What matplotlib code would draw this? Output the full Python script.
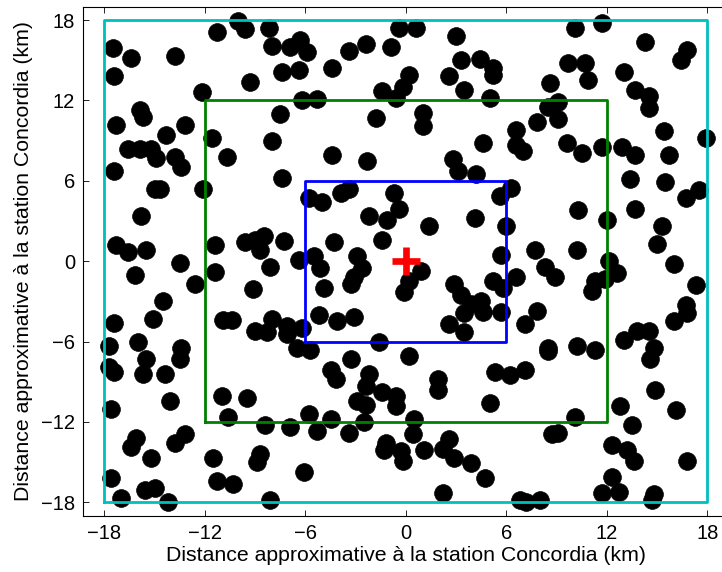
import matplotlib
matplotlib.use("Agg")
import matplotlib.pyplot as plt

plt.rcParams['font.family'] = ['Liberation Sans', 'DejaVu Sans']

# positions of the points (km from the station)
pts_x = [
    -10.0, -9.6, -11.3, -8.2, -8.0, -6.9, -6.3, -5.9, -17.5, -16.4, -13.8, -17.4,
    -9.3, -7.4, -6.4, -12.2, -6.2, -15.9, -15.7, -7.5, -17.3, -13.2, -14.3, -11.6,
    -8.0, -16.6, -15.9, -15.2, -14.9, -13.8, -13.4, -10.7, -17.4, -7.4,
    -0.4, 0.6, 3.0, -2.4, -3.4, -0.9, -4.4, 3.3, 4.4, 5.2, 5.2, 2.6,
    0.2, -0.2, -1.4, -0.6, 3.5, 5.0, -5.3, -1.8, 1.0, 1.0, 6.6, 6.6,
    7.0, 4.6, -4.4, -2.3, 2.8, 3.1, 4.2,
    10.1, 11.7, 14.3, 16.8, 16.4, 9.7, 10.7, 10.9, 13.0, 8.6, 13.7, 14.5,
    14.5, 9.1, 8.5, 9.1, 7.8, 9.6, 10.5, 11.7, 12.9, 13.7, 15.4, 15.7,
    17.9, 13.4, 15.5, 6.3,
    -15.0, -14.7, -12.1, -15.8, -17.3, -16.6, -15.5, -13.5, -16.2, -12.6, -11.4, -11.4,
    -9.6, -9.0, -8.5, -8.7, -7.3, -8.1, -6.4, -9.1, -14.5, -15.1, -17.4, -10.9,
    -10.4, -8.0, -9.0, -8.3, -7.1, -7.1, -6.2, -16.0, -17.7, -13.4,
    -5.8, -5.0, -3.9, -3.4, -0.7, -0.4, -2.2, -1.1, 1.4, 4.1, 5.6, 6.0,
    -4.3, -1.4, -5.5, -5.1, -2.9, -2.6, -3.1, -3.3, -4.9, 0.9, 0.2, -0.1,
    5.7, 6.6, 5.2, 5.8, 2.9, 3.3, 4.5, 3.9, 4.6, 3.5, 5.7, 2.6,
    3.5, -5.2, -4.1, -3.1, -1.6,
    16.7, 17.5, 10.3, 12.0, 13.7, 15.3, 15.0, 7.7, 10.2, 8.3, 8.9, 12.1,
    12.6, 11.3, 11.1, 11.9, 16.0, 17.3, 7.8, 7.1, 16.7, 16.8, 16.0, 13.8,
    14.5, 13.0, 8.5, 10.2, 11.3, 14.8,
    -13.5, -15.5, -17.7, -17.4, -15.7, -14.4, -6.5, -17.6, -14.1, -11.0, -9.5, -10.6,
    -8.4, -6.9, -5.8, -16.1, -16.4, -13.2, -13.8, -15.2, -11.5, -8.7, -8.9, -6.1,
    -17.6, -15.6, -15.0, -17.0, -14.2, -11.3, -10.3, -8.1,
    -5.7, -3.3, 0.2, -4.5, -4.2, -2.2, -2.4, -2.9, -2.4, -1.4, -0.6, -0.6,
    1.9, 1.9, 5.3, 6.2, 5.0, -4.5, -5.3, -3.4, -2.5, 0.5, 0.4, -1.2,
    -1.3, -0.3, -0.2, 1.1, 2.6, 2.2, 2.9, 3.9, 4.7, 2.2,
    8.5, 14.6, 7.1, 14.9, 12.8, 16.1, 10.1, 13.5, 8.7, 9.1, 12.3, 13.2,
    13.6, 16.8, 12.3, 12.7, 11.7, 14.8, 14.7, 6.8, 7.2, 8.0,
]
pts_y = [
    17.9, 17.3, 17.1, 17.4, 16.1, 16.0, 16.5, 15.6, 15.9, 15.2, 15.3, 13.8,
    13.4, 14.1, 14.3, 12.6, 12.0, 11.3, 10.8, 11.0, 10.2, 10.2, 9.4, 9.2,
    9.0, 8.4, 8.4, 8.4, 7.7, 7.8, 7.0, 7.8, 6.7, 6.2,
    17.4, 17.4, 16.8, 16.2, 15.7, 16.0, 14.4, 15.0, 15.1, 14.4, 13.9, 13.8,
    13.9, 13.0, 12.7, 12.2, 12.8, 12.2, 12.1, 10.7, 11.1, 10.1, 9.8, 8.7,
    8.2, 8.8, 7.9, 7.5, 7.6, 6.7, 6.5,
    17.4, 17.8, 16.4, 15.8, 15.0, 14.8, 14.8, 13.5, 14.1, 13.3, 12.8, 12.3,
    11.4, 11.9, 11.5, 10.6, 10.4, 8.8, 8.1, 8.5, 8.5, 7.9, 9.7, 7.9,
    9.2, 6.1, 5.9, 5.5,
    5.4, 5.4, 5.4, 3.4, 1.2, 0.7, 0.8, -0.1, -1.0, -1.7, 1.2, -0.8,
    1.4, 1.6, 1.9, 0.8, 1.5, -0.4, 0.1, -2.1, -3.0, -4.3, -4.6, -4.4,
    -4.4, -4.3, -5.2, -5.3, -4.8, -5.4, -5.0, -6.0, -6.3, -6.5,
    4.7, 4.4, 5.1, 5.4, 5.1, 3.9, 3.4, 3.1, 2.6, 3.2, 4.9, 2.6,
    1.4, 1.6, 0.4, -0.5, 0.4, -0.5, -1.2, -1.7, -2.0, -0.7, -1.5, -2.3,
    0.5, -1.2, -1.5, -2.0, -1.7, -2.5, -3.0, -3.2, -3.8, -3.9, -3.8, -4.7,
    -5.3, -4.0, -4.5, -4.2, -6.0,
    4.7, 5.3, 3.8, 3.1, 3.9, 2.6, 1.3, 0.8, 0.8, -0.4, -1.2, 0.0,
    -0.9, -1.5, -2.2, -1.3, -0.2, -1.8, -3.7, -4.7, -3.3, -3.9, -4.5, -5.2,
    -5.2, -5.9, -6.5, -6.3, -6.6, -6.5,
    -7.3, -7.3, -7.9, -8.3, -8.4, -8.4, -6.5, -11.0, -10.4, -10.1, -10.2, -11.6,
    -12.2, -12.4, -11.4, -13.2, -13.9, -12.9, -13.6, -14.7, -14.7, -14.4, -15.0, -15.7,
    -16.2, -17.1, -16.9, -17.7, -18.0, -16.4, -16.6, -17.8,
    -6.6, -7.3, -7.1, -8.1, -8.8, -8.4, -9.3, -10.4, -10.7, -9.8, -10.1, -10.8,
    -8.8, -9.6, -8.3, -8.5, -10.6, -11.8, -12.7, -12.8, -12.0, -11.8, -12.9, -13.6,
    -14.1, -14.2, -14.9, -14.1, -13.3, -14.0, -14.7, -15.1, -16.2, -17.3,
    -6.7, -7.3, -8.1, -9.6, -10.8, -11.1, -11.6, -12.2, -12.9, -12.8, -13.7, -14.1,
    -14.9, -14.9, -16.1, -17.2, -17.3, -17.4, -17.8, -17.8, -18.0, -17.8,
]

# nested squares around the station (half side in km) and their colours
square_half = [18, 12, 6]
square_colors = ['#00bfbf', '#008000', '#0000ff']

tick_vals = [-18, -12, -6, 0, 6, 12, 18]
axis_label = "Distance approximative à la station Concordia (km)"

fig = plt.figure(figsize=(7.22, 5.72), dpi=100)
ax = fig.add_axes([0.1154, 0.0984, 0.8935, 0.8899])

ax.plot(pts_x, pts_y, 'o', color='black', markersize=12.8,
        markeredgewidth=0.5, zorder=2)

for h, c in zip(square_half, square_colors):
    ax.plot([-h, h, h, -h, -h], [-h, -h, h, h, -h], '-', color=c,
            linewidth=2.0, zorder=3)

ax.plot([0], [0], '+', color='red', markersize=20, markeredgewidth=4.8,
        zorder=4)

ax.set_xlim(-19.26, 19.26)
ax.set_ylim(-19.0, 19.0)
ax.set_xticks(tick_vals)
ax.set_yticks(tick_vals)
ax.tick_params(direction='in', length=4.5, width=0.6, top=True, right=True,
               labelsize=14.5, pad=6)
for s in ax.spines.values():
    s.set_linewidth(0.8)

ax.set_xlabel(axis_label, fontsize=15.3, labelpad=2)
ax.set_ylabel(axis_label, fontsize=15.3, labelpad=6)

fig.savefig("out.png", dpi=100)
